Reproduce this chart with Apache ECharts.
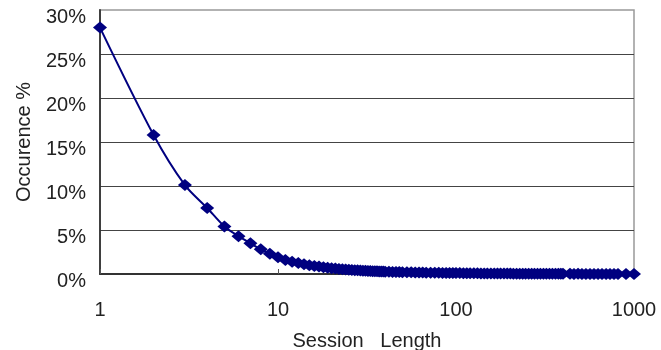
<!DOCTYPE html>
<html>
<head>
<meta charset="utf-8">
<script src="https://cdn.jsdelivr.net/npm/echarts@6/dist/echarts.min.js"></script>
<style>
html,body{margin:0;padding:0;background:#fff;}
#chart{width:661px;height:350px;}
</style>
</head>
<body>
<div id="chart"></div>
<script>
// Session lengths (x) and occurrence percentages (y)
const sessionLength = [
  1,2,3,4,5,6,7,8,9,10,11,12,13,14,15,16,17,18,19,20,
  21,22,23,24,25,26,27,28,29,30,31,32,33,34,35,36,37,38,39,40,
  42,44,46,48,50,53,56,59,62,65,68,72,76,80,84,88,92,96,100,
  105,110,115,120,126,132,138,144,150,157,164,171,178,186,194,202,
  210,219,228,237,246,256,266,276,287,298,310,322,335,348,362,376,388,399,
  437,460,485,510,537,566,596,628,661,697,733,772,813,902,1000
];
const occurrence = [
  28.0,15.8,10.1,7.5,5.4,4.3,3.5,2.8,2.3,1.9,1.6,1.4,1.25,1.1,1.0,0.92,0.85,0.78,0.72,0.66,
  0.62,0.58,0.55,0.52,0.49,0.46,0.44,0.42,0.40,0.38,0.36,0.35,0.34,0.32,0.31,0.30,0.29,0.28,0.27,0.26,
  0.25,0.24,0.23,0.22,0.21,0.20,0.19,0.18,0.17,0.16,0.15,0.14,0.14,0.13,0.12,0.12,0.11,0.11,0.10,
  0.10,0.09,0.09,0.08,0.08,0.08,0.07,0.07,0.07,0.06,0.06,0.06,0.05,0.05,0.05,0.05,
  0.04,0.04,0.04,0.04,0.04,0.03,0.03,0.03,0.03,0.03,0.03,0.02,0.02,0.02,0.02,0.02,0.02,0.02,
  0.02,0.01,0.02,0.01,0.01,0.01,0.01,0.01,0.01,0.01,0.01,0.01,0.01,0.01,0.01
];
const yTicks = [0,5,10,15,20,25,30];
const xTickLabels = ['1','10','100','1000'];

const points = sessionLength.map((x, i) => [x, occurrence[i]]);
const FONT = 'Arial, "Liberation Sans", sans-serif';

const chart = echarts.init(document.getElementById('chart'), null, {renderer: 'canvas'});
chart.setOption({
  animation: false,
  backgroundColor: '#ffffff',
  grid: {
    left: 100, right: 27, top: 10, bottom: 76,
    containLabel: false,
    outerBoundsMode: 'none',
    show: true, borderColor: '#999999', borderWidth: 1.5, backgroundColor: 'transparent'
  },
  xAxis: {
    type: 'log',
    logBase: 10,
    min: 1,
    max: 1000,
    name: 'Session   Length',
    nameLocation: 'middle',
    nameGap: 57,
    nameTextStyle: {fontFamily: FONT, fontSize: 20, color: '#222'},
    axisLine: {show: true, lineStyle: {color: '#333', width: 1.8}},
    axisTick: {show: true, inside: true, length: 5, lineStyle: {color: '#555'}},
    minorTick: {show: false},
    splitLine: {show: false},
    axisLabel: {
      fontFamily: FONT, fontSize: 20, color: '#222', margin: 26,
      showMinLabel: true, showMaxLabel: true,
      formatter: v => xTickLabels.includes(String(Math.round(v))) ? String(Math.round(v)) : ''
    }
  },
  yAxis: {
    type: 'value',
    min: yTicks[0],
    max: yTicks[yTicks.length - 1],
    interval: 5,
    name: 'Occurence %',
    nameLocation: 'middle',
    nameGap: 66,
    nameTextStyle: {fontFamily: FONT, fontSize: 20, color: '#222'},
    axisLine: {show: true, lineStyle: {color: '#333', width: 1.8}},
    axisTick: {show: false},
    splitLine: {show: true, showMinLine: false, showMaxLine: false, lineStyle: {color: '#444', width: 1}},
    axisLabel: {
      fontFamily: FONT, fontSize: 20, color: '#222', margin: 14,
      verticalAlign: 'top',
      lineHeight: 14,
      formatter: '{value}%'
    }
  },
  series: [{
    type: 'line',
    data: points,
    smooth: 0.3,
    symbol: 'diamond',
    symbolSize: [14, 12],
    showAllSymbol: true,
    lineStyle: {color: '#000080', width: 2},
    itemStyle: {color: '#000080'},
    clip: false
  }]
});
</script>
</body>
</html>
